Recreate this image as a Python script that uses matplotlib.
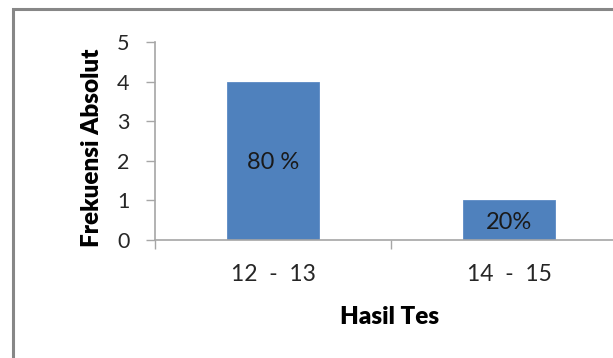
import matplotlib
matplotlib.use("Agg")
from matplotlib import pyplot as plt
from matplotlib.patches import Rectangle

# data
categories = ["12  -  13", "14  -  15"]
frekuensi = [4, 1]
persen_labels = ["80 %", "20%"]

plt.rcParams["font.family"] = ["Lato", "DejaVu Sans"]

dpi_val = 100
fig = plt.figure(figsize=(6.13, 3.58), dpi=dpi_val)

# outer chart frame (runs past right and bottom edges)
frame = Rectangle((13 / 613, -0.1), 1.2, (358 - 9) / 358 + 0.1,
                  transform=fig.transFigure, fill=False,
                  edgecolor="#878787", linewidth=2.2, zorder=0)
fig.patches.append(frame)

ax = fig.add_axes([155 / 613, 118 / 358, 472 / 613, 198 / 358])

x = list(range(len(categories)))
ax.bar(x, frekuensi, width=0.39, color="#4F81BD", edgecolor="#5B8AC4",
       linewidth=0.6, zorder=2)

for xi, v, lab in zip(x, frekuensi, persen_labels):
    ax.text(xi, v / 2, lab, ha="center", va="center_baseline", fontsize=17,
            color="#1a1a1a", zorder=3)

ax.set_xlim(-0.5, 1.5)
ax.set_ylim(0, 5)

# axis styling
for side in ["top", "right"]:
    ax.spines[side].set_visible(False)
for side in ["left", "bottom"]:
    ax.spines[side].set_color("#A6A6A6")
    ax.spines[side].set_linewidth(1.2)

ax.set_yticks([0, 1, 2, 3, 4, 5])
ax.tick_params(axis="y", length=6.5, width=1.0, color="#A6A6A6",
               pad=12, labelsize=15.5, labelcolor="#262626")

ax.set_xticks(x)
ax.set_xticklabels(categories)
ax.set_xticks([-0.5, 0.5, 1.5], minor=True)
ax.tick_params(axis="x", which="major", length=0, pad=17, labelsize=16.5,
               labelcolor="#262626")
ax.tick_params(axis="x", which="minor", length=6.5, width=1.0,
               color="#A6A6A6")

ax.set_ylabel("Frekuensi Absolut", fontsize=17.5, fontweight="heavy",
              va="center")
ax.yaxis.set_label_coords((92 - 155) / 472, (240 - 148) / 198)
ax.set_xlabel("Hasil Tes", fontsize=17.5, fontweight="heavy", va="center")
ax.xaxis.set_label_coords((390 - 155) / 472, -(317 - 240) / 198)

fig.savefig("out.png", dpi=dpi_val)
